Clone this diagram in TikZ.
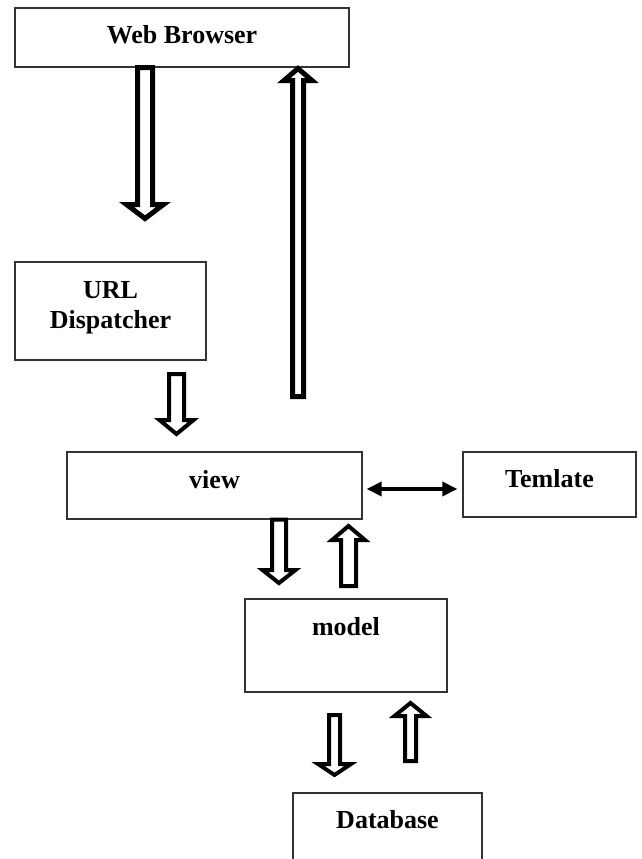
\documentclass[tikz,border=0pt]{standalone}
\usepackage{fontspec}
\setmainfont{Liberation Serif}
\usetikzlibrary{calc,arrows.meta}
\newcommand{\hollowarrow}[6][]{%
  \draw[blockarrow,#1] ($(#2)+(-#4,0)$) -- ($(#3)+(-#4,#6)$) -- ($(#3)+(-#5,#6)$) -- (#3)
    -- ($(#3)+(#5,#6)$) -- ($(#3)+(#4,#6)$) -- ($(#2)+(#4,0)$) -- cycle;}
\begin{document}
\begin{tikzpicture}[x=1pt,y=1pt,
  box/.style={draw=black!80, line width=1.3pt, rectangle, inner sep=0pt,
    font=\fontsize{26}{30}\selectfont\bfseries, text height=18pt},
  blockarrow/.style={draw=black, fill=white, line width=4pt, line join=miter, miter limit=10},
  thickarrow/.style={line width=5pt},
  dblarr/.style={draw=black, line width=3.5pt, {Triangle[length=15pt,width=14pt]}-{Triangle[length=15pt,width=14pt]}}]
\useasboundingbox (0,0) rectangle (641,-859);
\clip (0,0) rectangle (641,-859);

% boxes
\node[box, minimum width=334pt, minimum height=59pt, text depth=5pt] (wb) at (182,-37.5) {Web Browser};
\node[box, minimum width=191pt, minimum height=98pt, align=center, text height=40pt] (url) at (110.5,-311) {URL\\Dispatcher};
\node[box, minimum width=295pt, minimum height=67pt, text depth=13pt] (view) at (214.5,-485.5) {view};
\node[box, minimum width=173pt, minimum height=65pt, text depth=13pt] (tpl) at (549.5,-484.5) {Temlate};
\node[box, minimum width=202pt, minimum height=93pt, text depth=39pt] (model) at (346,-645.5) {model};
\node[box, minimum width=189pt, minimum height=87pt, text depth=35pt] (db) at (387.5,-836.5) {Database};

% arrow end points
\coordinate (a1s) at (wb.south -| 145,0);
\coordinate (a1t) at (145,-218.5);
\coordinate (a2s) at (298,-396.5);
\coordinate (a2t) at (298,-68.5);
\coordinate (a3s) at (176.5,-374);
\coordinate (a3t) at (176.5,-434);
\coordinate (a4s) at (view.south -| 279,0);
\coordinate (a4t) at (279,-583);
\coordinate (a5s) at (348.5,-586);
\coordinate (a5t) at (348.5,-526);
\coordinate (a6s) at (334.5,-715);
\coordinate (a6t) at (334.5,-775);
\coordinate (a7s) at (410.5,-761);
\coordinate (a7t) at (410.5,-703);

% hollow block arrows
\hollowarrow[thickarrow]{a1s}{a1t}{7.5}{18.5}{14}
\hollowarrow[thickarrow]{a2s}{a2t}{5.5}{14}{-12}
\hollowarrow{a3s}{a3t}{7.5}{17}{14}
\hollowarrow{a4s}{a4t}{7}{16.5}{13}
\hollowarrow{a5s}{a5t}{7.5}{16.5}{-14}
\hollowarrow{a6s}{a6t}{5.5}{16.5}{11}
\hollowarrow{a7s}{a7t}{5.5}{16}{-13}

% double-headed connector
\draw[dblarr, shorten <=4pt, shorten >=5pt] (view.east |- 0,-489) -- (tpl.west |- 0,-489);
\end{tikzpicture}
\end{document}
